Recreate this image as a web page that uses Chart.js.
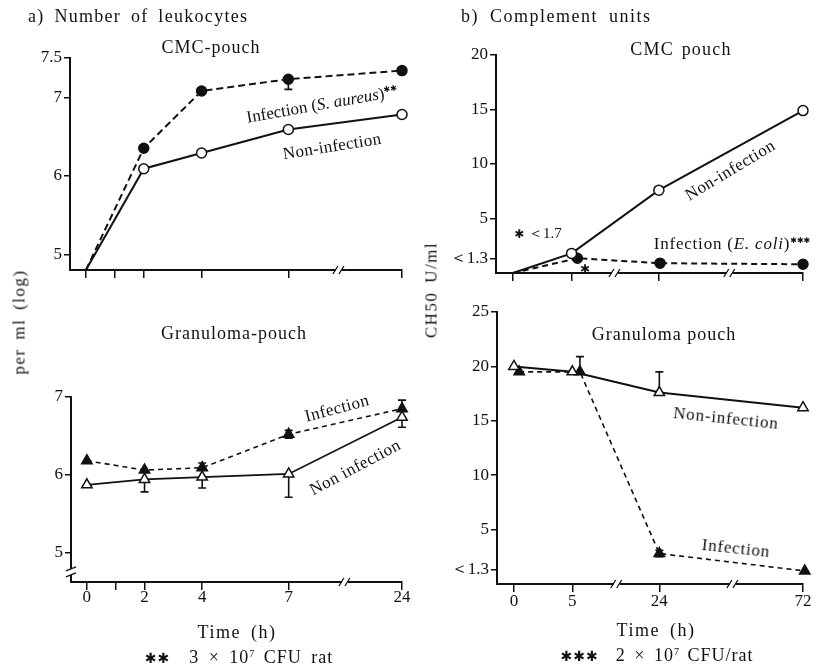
<!DOCTYPE html>
<html><head><meta charset="utf-8">
<script src="https://cdn.jsdelivr.net/npm/chart.js@4.4.1/dist/chart.umd.min.js"></script>
<style>
body{margin:0;background:#fff;width:816px;height:670px;position:relative;overflow:hidden;font-family:"Liberation Serif","DejaVu Serif",serif;color:#111}
canvas{position:absolute;left:0;top:0}
.t{position:absolute;white-space:nowrap;line-height:1;transform-origin:center center}
.st{font-family:"DejaVu Sans",sans-serif;font-weight:bold}
sup{font-size:8px;vertical-align:6px;letter-spacing:0}
</style></head><body>
<canvas id="c1" width="816" height="670"></canvas>
<canvas id="c2" width="816" height="670"></canvas>
<canvas id="c3" width="816" height="670"></canvas>
<canvas id="c4" width="816" height="670"></canvas>
<script>
// ---------- data: a) Number of leukocytes (log per ml) ----------
const aHours = [0, 2, 4, 7, 24];
const aTickHours = [0, 1, 2, 4, 7, 24];
const aTickLabels = ['0', '', '2', '4', '7', '24'];
const aCmcYTicks = [5, 6, 7, 7.5];
const aCmcYLabels = ['5', '6', '7', '7.5'];
const aGranYTicks = [5, 6, 7];
const aGranYLabels = ['5', '6', '7'];
const aCmcInfection = [4.8, 6.35, 7.08, 7.23, 7.34];
const aCmcInfErrLow = [null, null, null, 7.10, null];
const aCmcNonInfection = [4.8, 6.09, 6.29, 6.59, 6.78];
const aGranInfection = [6.18, 6.06, 6.09, 6.52, 6.85];
const aGranInfErrHigh = [null, null, 6.15, 6.57, 6.96];
const aGranInfErrLow = [null, null, null, 6.47, null];
const aGranNonInfection = [5.87, 5.94, 5.97, 6.01, 6.74];
const aGranNonErrLow = [null, 5.78, 5.83, 5.71, 6.61];

// ---------- data: b) Complement units (CH50 U/ml) ----------
const bHours = [0, 5, 24, 72];
const bTickLabels = ['0', '5', '24', '72'];
const bCmcYTicks = [1.3, 5, 10, 15, 20];
const bCmcYLabels = ['＜1.3', '5', '10', '15', '20'];
const bGranYTicks = [1.3, 5, 10, 15, 20, 25];
const bGranYLabels = ['＜1.3', '5', '10', '15', '20', '25'];
const bCmcNonInfection = [0, 1.8, 7.6, 14.9];
const bCmcInfection = [0, 1.35, 0.9, 0.8];
const bGranNonInfection = [20.0, 19.5, 17.6, 16.2];
const bGranNonErrHigh = [null, null, 19.5, null];
const bGranInfection = [19.5, 19.5, 2.8, 1.2];
const bGranInfErrHigh = [null, 20.9, 3.1, null];
const bGranInfErrLow = [null, null, 2.5, null];

// ---------- broken time axes (display mapping) ----------
const uA = h => h <= 7 ? h : 7 + (h - 7) / 17 * 3.93;
const uB = h => h <= 5 ? h / 5 : (h <= 24 ? 1 + (h - 5) / 19 * 1.49 : 2.49 + (h - 24) / 48 * 2.46);
const nudgeCmcB = [0, 0.1, 0.02, 0];
const nudgeGranB = [0.09, 0.13, 0, 0.03];
const pts = (hours, vals, map, nudge) => hours.map((h, i) => ({x: map(h) + (nudge ? nudge[i] : 0), y: vals[i]}));

const INK = '#111';
const FONT = {family: '"Liberation Serif", "DejaVu Serif", serif', size: 17};

function ds(data, o) {
  return Object.assign({data, borderColor: INK, borderWidth: 2, tension: 0, clip: false,
    pointBorderColor: INK, pointBorderWidth: 1.5, pointRadius: 5, pointBackgroundColor: INK}, o);
}

const errorBars = {id: 'errorBars', beforeDatasetsDraw(chart) {
  const ctx = chart.ctx, ys = chart.scales.y;
  chart.data.datasets.forEach((d, di) => {
    const meta = chart.getDatasetMeta(di);
    ['errHi', 'errLo'].forEach(k => {
      if (!d[k]) return;
      d[k].forEach((v, i) => {
        if (v == null) return;
        const p = meta.data[i], py = ys.getPixelForValue(v);
        ctx.save(); ctx.strokeStyle = INK; ctx.lineWidth = 1.6;
        ctx.beginPath(); ctx.moveTo(p.x, p.y); ctx.lineTo(p.x, py);
        ctx.moveTo(p.x - 4, py); ctx.lineTo(p.x + 4, py); ctx.stroke(); ctx.restore();
      });
    });
  });
}};

const axisBreaks = {id: 'axisBreaks', afterDraw(chart, args, opts) {
  const ctx = chart.ctx, a = chart.chartArea;
  ctx.save(); ctx.strokeStyle = INK; ctx.lineWidth = 1.3;
  (opts.x || []).forEach(v => {
    const px = chart.scales.x.getPixelForValue(v), py = a.bottom;
    ctx.fillStyle = '#fff'; ctx.fillRect(px - 3, py - 3, 6, 6);
    ctx.beginPath();
    ctx.moveTo(px - 6, py + 4); ctx.lineTo(px - 1, py - 4);
    ctx.moveTo(px, py + 4); ctx.lineTo(px + 5, py - 4);
    ctx.stroke();
  });
  (opts.y || []).forEach(v => {
    const py = chart.scales.y.getPixelForValue(v), px = a.left;
    ctx.fillStyle = '#fff'; ctx.fillRect(px - 3, py - 3, 6, 6);
    ctx.beginPath();
    ctx.moveTo(px - 5, py - 1); ctx.lineTo(px + 5, py - 5);
    ctx.moveTo(px - 5, py + 5); ctx.lineTo(px + 5, py + 1);
    ctx.stroke();
  });
  ctx.restore();
}};

function makeChart(id, c) {
  return new Chart(document.getElementById(id), {
    type: 'line',
    data: {datasets: c.datasets},
    options: {
      responsive: false, animation: false, events: [],
      layout: {padding: c.pad, autoPadding: false},
      plugins: {legend: {display: false}, tooltip: {enabled: false}, axisBreaks: c.breaks},
      scales: {
        x: {type: 'linear', min: c.xmin, max: c.xmax,
          afterBuildTicks: s => { s.ticks = c.xticks.map(v => ({value: v})); },
          afterFit: s => { s.height = c.xh; },
          ticks: {callback: (v, i) => c.xlabels[i], font: FONT, color: INK, padding: c.xpad || 0, maxRotation: 0, autoSkip: false},
          grid: {display: true, drawOnChartArea: false, drawTicks: true, tickLength: 8, color: INK, lineWidth: 1.5},
          border: {display: true, color: INK, width: 2}
        },
        y: {type: 'linear', min: c.ymin, max: c.ymax,
          afterBuildTicks: s => { s.ticks = c.yticks.map(v => ({value: v})); },
          afterFit: s => { s.width = c.yw; },
          ticks: {callback: (v, i) => c.ylabels[i], font: FONT, color: INK, padding: 2, autoSkip: false},
          grid: {display: true, drawOnChartArea: false, drawTicks: true, tickLength: 6, color: INK, lineWidth: 1.5},
          border: {display: true, color: INK, width: 2}
        }
      }
    },
    plugins: [errorBars, axisBreaks]
  });
}

// a) CMC-pouch
makeChart('c1', {
  pad: {left: 30, right: 414, top: 58, bottom: 380}, yw: 40, xh: 20,
  xmin: -0.55, xmax: uA(24), ymin: 4.8, ymax: 7.5,
  xticks: aTickHours.map(uA), xlabels: aTickHours.map(() => ''),
  yticks: aCmcYTicks, ylabels: aCmcYLabels, breaks: {x: [8.75]},
  datasets: [
    ds(pts(aHours, aCmcNonInfection, uA), {pointBackgroundColor: '#fff', pointRadius: [0, 5, 5, 5, 5]}),
    ds(pts(aHours, aCmcInfection, uA), {borderDash: [7, 4], pointRadius: [0, 5, 5, 5, 5], errLo: aCmcInfErrLow})
  ]
});
// a) Granuloma-pouch
makeChart('c2', {
  pad: {left: 31, right: 414, top: 397, bottom: 58}, yw: 40, xh: 30, xpad: -3,
  xmin: -0.55, xmax: uA(24), ymin: 4.62, ymax: 7,
  xticks: aTickHours.map(uA), xlabels: aTickLabels,
  yticks: aGranYTicks, ylabels: aGranYLabels, breaks: {x: [8.95], y: [4.75]},
  datasets: [
    ds(pts(aHours, aGranNonInfection, uA), {borderWidth: 1.7, pointStyle: 'triangle', pointRadius: 6, pointBackgroundColor: '#fff', errLo: aGranNonErrLow}),
    ds(pts(aHours, aGranInfection, uA), {borderWidth: 1.6, borderDash: [5, 4], pointStyle: 'triangle', pointRadius: 6, errHi: aGranInfErrHigh, errLo: aGranInfErrLow})
  ]
});
// b) CMC pouch
makeChart('c3', {
  pad: {left: 446, right: 13, top: 55, bottom: 377}, yw: 50, xh: 20,
  xmin: -0.29, xmax: uB(72), ymin: 0, ymax: 20,
  xticks: bHours.map(uB), xlabels: bHours.map(() => ''),
  yticks: bCmcYTicks, ylabels: bCmcYLabels, breaks: {x: [1.74, 3.70]},
  datasets: [
    ds(pts(bHours, bCmcNonInfection, uB), {pointBackgroundColor: '#fff', pointRadius: [0, 5, 5, 5]}),
    ds(pts(bHours, bCmcInfection, uB, nudgeCmcB), {borderDash: [6, 4], pointRadius: [0, 5, 5, 5]})
  ]
});
// b) Granuloma pouch
makeChart('c4', {
  pad: {left: 447, right: 13, top: 312, bottom: 56}, yw: 50, xh: 30, xpad: -1,
  xmin: -0.29, xmax: uB(72), ymin: 0, ymax: 25,
  xticks: bHours.map(uB), xlabels: bTickLabels,
  yticks: bGranYTicks, ylabels: bGranYLabels, breaks: {x: [1.76, 3.75]},
  datasets: [
    ds(pts(bHours, bGranNonInfection, uB), {pointStyle: 'triangle', pointRadius: 6, pointBackgroundColor: '#fff', errHi: bGranNonErrHigh}),
    ds(pts(bHours, bGranInfection, uB, nudgeGranB), {borderWidth: 1.6, borderDash: [5, 4], pointStyle: 'triangle', pointRadius: 6, errHi: bGranInfErrHigh, errLo: bGranInfErrLow})
  ]
});

// ---------- text ----------
function txt(html, x, y, size, rot, extra, anchorLeft) {
  const d = document.createElement('div');
  d.className = 't';
  d.innerHTML = html;
  d.style.left = x + 'px'; d.style.top = y + 'px';
  d.style.fontSize = size + 'px';
  d.style.transform = (anchorLeft ? 'translate(0,-50%)' : 'translate(-50%,-50%)') + ' rotate(' + (rot || 0) + 'deg)';
  if (extra) d.style.cssText += extra;
  document.body.appendChild(d);
}
const S2 = '<sup class="st">✱✱</sup>', S3 = '<sup class="st">✱✱✱</sup>';
txt('a)&nbsp;Number of leukocytes', 28, 16, 18, 0, 'letter-spacing:1.3px;word-spacing:4px', true);
txt('b)&nbsp;Complement units', 461, 16, 18, 0, 'letter-spacing:1.5px;word-spacing:5px', true);
txt('CMC-pouch', 211, 47, 18, 0, 'letter-spacing:1px');
txt('CMC pouch', 681, 49, 18, 0, 'letter-spacing:1.2px;word-spacing:2px');
txt('Granuloma-pouch', 234, 333, 18, 0, 'letter-spacing:1px');
txt('Granuloma pouch', 664, 334, 18, 0, 'letter-spacing:1px');
txt('Infection (<i>S. aureus</i>)' + S2, 322, 104, 17, -10);
txt('Non-infection', 332, 146, 17, -9, 'letter-spacing:0.3px');
txt('Infection', 337, 408, 17, -15, 'letter-spacing:0.5px');
txt('Non infection', 355, 467, 17, -28, 'letter-spacing:0.5px');
txt('Non-infection', 730, 170, 17, -31, 'letter-spacing:0.5px');
txt('Infection (<i>E. coli</i>)' + S3, 732, 243, 17, 0, 'letter-spacing:0.8px');
txt('<span class="st" style="font-size:12px">✱</span> ＜1.7', 538, 233, 15, 0);
txt('<span class="st" style="font-size:12px">✱</span>', 585, 268, 15, 0);
txt('Non-infection', 726, 418, 17, 6, 'letter-spacing:0.8px');
txt('Infection', 736, 548, 17, 6, 'letter-spacing:0.8px');
txt('per ml (log)', 19, 322, 17, -90, 'letter-spacing:1.5px;word-spacing:3px');
txt('CH50 U/ml', 431, 290, 17, -90, 'letter-spacing:1.5px;word-spacing:3px');
txt('Time (h)', 237, 632, 18, 0, 'letter-spacing:1.5px;word-spacing:4px');
txt('Time (h)', 656, 630, 18, 0, 'letter-spacing:1.5px;word-spacing:4px');
txt('<span class="st" style="font-size:14px">✱✱</span>&nbsp; 3 × 10<sup style="font-size:10px">7</sup> CFU rat', 239, 657, 18, 0, 'letter-spacing:1px;word-spacing:4px');
txt('<span class="st" style="font-size:14px">✱✱✱</span>&nbsp; 2 × 10<sup style="font-size:10px">7</sup> CFU/rat', 657, 655, 18, 0, 'letter-spacing:1px;word-spacing:3px');
</script>
</body></html>
